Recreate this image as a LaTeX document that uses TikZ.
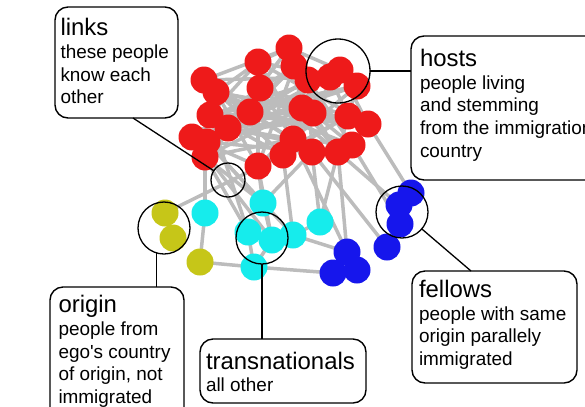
\documentclass[tikz,border=0pt]{standalone}
\usepackage{fontspec}
\setmainfont{Liberation Sans}
\usetikzlibrary{backgrounds}
\definecolor{vred}{RGB}{238,26,26}
\definecolor{vcyan}{RGB}{22,236,236}
\definecolor{vblue}{RGB}{22,22,236}
\definecolor{volive}{RGB}{198,198,24}
\definecolor{edgegray}{RGB}{188,188,188}
\begin{document}
\begin{tikzpicture}[x=1bp,y=-1bp,
  vert/.style={circle,inner sep=0pt,outer sep=0pt,minimum size=27bp},
  rv/.style={vert,fill=vred},
  cv/.style={vert,fill=vcyan},
  bv/.style={vert,fill=vblue},
  ov/.style={vert,fill=volive},
  edge/.style={draw=edgegray,line width=3.5bp},
  hl/.style={circle,draw=black,line width=1.3bp,inner sep=0pt,outer sep=0pt},
  box/.style={draw=black,line width=1.4bp,rounded corners=13bp,inner sep=0pt,outer sep=0pt,anchor=north west,fill=white},
  lbl/.style={anchor=north west,inner sep=0pt,outer sep=0pt,align=left,font=\fontsize{19}{22.7}\selectfont},
  conn/.style={draw=black,line width=1.3bp}]
\useasboundingbox (0,0) rectangle (585,406);
\clip (0,0) rectangle (585,406);
\newcommand{\ttl}[1]{{\fontsize{24}{22.7}\selectfont #1}}
% red nodes
\foreach \n/\x/\y in {1/289/48,2/294/66,3/258/62,4/260/88,5/204/80,6/216/92,7/250/112,
  8/210/115,9/228/128,10/192/137,11/207/142,12/205/157,13/258/166,14/283/155,
  15/293/139,16/312/152,17/302/108,18/313/113,19/308/80,20/330/77,21/340/70,
  22/357/86,23/348/116,24/368/124,25/352/145,26/338/152}
  \node[rv] (r\n) at (\x,\y) {};
% cyan nodes
\foreach \n/\x/\y in {1/205/213,2/263/203,3/248/232,4/272/240,5/293/235,6/320/222,7/254/267}
  \node[cv] (c\n) at (\x,\y) {};
% olive nodes
\foreach \n/\x/\y in {1/165/213,2/173/238,3/200/262}
  \node[ov] (y\n) at (\x,\y) {};
% blue nodes
\foreach \n/\x/\y in {1/411/193,2/399/205,3/400/224,4/387/247,5/347/252,6/333/273,7/357/270}
  \node[bv] (b\n) at (\x,\y) {};
\begin{pgfonlayer}{background}
\foreach \a/\b in {r1/r3,r1/r5,r1/r19,r1/r21,r1/r12,r2/r7,r2/r9,r2/r17,r2/r22,r2/r10,
  r3/r6,r3/r8,r3/r20,r3/r13,r4/r10,r4/r15,r4/r23,r4/r11,r4/r12,r5/r7,r5/r20,r5/r9,r5/r14,
  r6/r17,r6/r24,r6/r13,r6/r25,r7/r16,r7/r11,r7/r22,r7/r12,r8/r18,r8/r14,r8/r24,r9/r23,
  r9/r19,r9/r15,r9/r26,r10/r17,r10/r13,r10/r23,r11/r16,r11/r21,r12/r15,r12/r2,r13/r18,
  r14/r23,r14/r19,r15/r22,r16/r19,r16/r3,r17/r24,r17/r26,r18/r25,r20/r23,r21/r24,r22/r26,
  r19/r25,r20/r11,r21/r15,r22/r8,r5/r6,r10/r11,r15/r25,r18/r26,
  r3/r24,r4/r26,r6/r16,r7/r19,r8/r20,r9/r22,r11/r18,r12/r17,r13/r23,r14/r21,r1/r9,r2/r13,
  y1/r14,y1/y2,c1/r12,c1/y3,y3/c7,c7/b6,c3/c7,c2/r12,c2/r11,c2/r13,c2/r16,c3/r12,c3/r8,
  c4/r10,c4/r13,c5/r11,c5/c6,c5/b5,c6/r16,c6/r26,b5/r26,b5/r15,b5/b6,b6/b7,b5/b7,b2/r26,
  b4/r16,b1/r24,b3/r25,c4/c7,c2/c4,r14/c5,b2/b3,b1/b2}
  \draw[edge] (\a.center) -- (\b.center);
\end{pgfonlayer}
% highlight circles
\node[hl,minimum size=34bp] (linkscirc) at (228,180) {};
\node[hl,minimum size=64bp] (hostscirc) at (338,71) {};
\node[hl,minimum size=52bp] (origincirc) at (164,228) {};
\node[hl,minimum size=52bp] (transcirc) at (262,238) {};
\node[hl,minimum size=52bp] (fellowscirc) at (402,212) {};
% boxes
\node[box,minimum width=123bp,minimum height=111bp] (linksbox) at (55,7) {};
\node[box,minimum width=200bp,minimum height=144bp] (hostsbox) at (411,36) {};
\node[box,minimum width=134bp,minimum height=140bp] (originbox) at (50,287) {};
\node[box,minimum width=166bp,minimum height=64bp] (transbox) at (200,339) {};
\node[box,minimum width=165bp,minimum height=112bp] (fellowsbox) at (412,271) {};
% texts
\node[lbl] (linkstext) at (60.5,18.5) {\ttl{links}\\these people\\know each\\other};
\node[lbl] (hoststext) at (420,49.3) {\ttl{hosts}\\people living\\and stemming\\from the immigration\\country};
\node[lbl] (origintext) at (58.5,295.5) {\ttl{origin}\\people from\\ego\textquotesingle s country\\of origin, not\\immigrated};
\node[lbl] (transtext) at (206,351.8) {\ttl{transnationals}\\all other};
\node[lbl] (fellowstext) at (419,280.3) {\ttl{fellows}\\people with same\\origin parallely\\immigrated};
% connectors
\coordinate (linksfoot) at (133,0 |- linksbox.south);
\draw[conn] (linksfoot) -- (linkscirc);
\draw[conn] (hostscirc.east) -- (hostscirc.east -| hostsbox.west);
\draw[conn] (origincirc.-106) -- (origincirc.-106 |- originbox.north);
\draw[conn] (transcirc.south) -- (transcirc.south |- transbox.north);
\coordinate (fellowsfoot) at (471,0 |- fellowsbox.north);
\draw[conn] (fellowscirc) -- (fellowsfoot);
\end{tikzpicture}
\end{document}
